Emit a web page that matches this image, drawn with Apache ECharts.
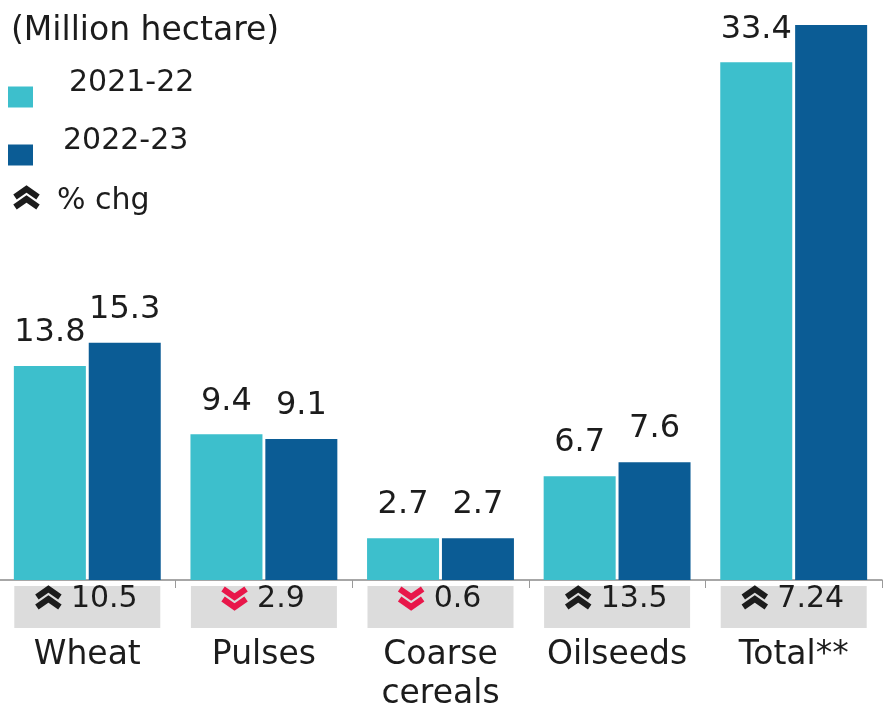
<!DOCTYPE html>
<html>
<head>
<meta charset="utf-8">
<script src="https://cdn.jsdelivr.net/npm/echarts@6/dist/echarts.min.js"></script>
<style>
  html, body { margin: 0; padding: 0; background: #fff; }
  #chart { width: 892px; height: 711px; }
</style>
</head>
<body>
<div id="chart"></div>
<script>
const categories = ["Wheat", "Pulses", "Coarse\ncereals", "Oilseeds", "Total**"];
const area2122 = [13.8, 9.4, 2.7, 6.7, 33.4];
const area2223 = [15.3, 9.1, 2.7, 7.6, 35.8];
const pctChange = [10.5, -2.9, -0.6, 13.5, 7.24];

const FONT = "DejaVu Sans";
const TEXT = "#1c1c1c";
const LIGHT = "#3dbfcc";
const DARK = "#0b5c95";
const RED = "#e8174a";

// measure text for centring chevron + number together
const measureCtx = document.createElement("canvas").getContext("2d");
function textWidth(str, size) {
  measureCtx.font = size + "px '" + FONT + "'";
  return measureCtx.measureText(str).width;
}

function chevronShapes(x, y, up, color) {
  // two stacked chevrons, 23px wide, relative to y
  const rows = [[9, 17], [19, 27]];
  return rows.map(([a, b]) => ({
    type: "polyline",
    shape: {
      points: up
        ? [[x, y + b], [x + 11.5, y + a], [x + 23, y + b]]
        : [[x, y + a], [x + 11.5, y + b], [x + 23, y + a]]
    },
    style: { stroke: color, lineWidth: 6, fill: null, lineJoin: "miter" }
  }));
}

function renderPct(params, api) {
  const idx = api.value(0);
  const pct = api.value(2);
  const pt = api.coord([idx, 0]);
  const cx = pt[0], y0 = pt[1];
  const up = pct >= 0;
  const label = String(Math.abs(pct));
  const tw = textWidth(label, 30);
  const total = 23 + 11 + tw;
  const sx = cx - total / 2;
  return {
    type: "group",
    children: [
      {
        type: "rect",
        shape: { x: cx - 73, y: y0 + 6, width: 146, height: 42 },
        style: { fill: "#dcdcdc" }
      },
      ...chevronShapes(sx, y0, up, up ? TEXT : RED),
      {
        type: "text",
        style: {
          x: sx + 34, y: y0 + 19,
          text: label,
          font: "30px '" + FONT + "'",
          fill: TEXT,
          textAlign: "left",
          textVerticalAlign: "middle"
        }
      }
    ]
  };
}

const chart = echarts.init(document.getElementById("chart"), null, { renderer: "canvas" });

const barLabel = {
  show: true,
  position: "top",
  distance: 17,
  color: TEXT,
  fontFamily: FONT,
  fontSize: 32
};

chart.setOption({
  animation: false,
  textStyle: { fontFamily: FONT },
  title: {
    text: "(Million hectare)",
    left: 11,
    top: 15,
    padding: 0,
    textStyle: { fontFamily: FONT, fontSize: 33, fontWeight: "normal", color: TEXT }
  },
  legend: {
    orient: "vertical",
    left: 8,
    top: 68,
    padding: 0,
    itemGap: 0,
    itemWidth: 25,
    itemHeight: 21,
    icon: "rect",
    selectedMode: false,
    formatter: name => (name === "2021-22" ? "{a|" + name + "}" : "{b|" + name + "}") + "\n{gap| }",
    textStyle: {
      color: TEXT,
      rich: {
        a: { fontFamily: FONT, fontSize: 30, lineHeight: 30, padding: [0, 0, 0, 31], color: TEXT },
        b: { fontFamily: FONT, fontSize: 30, lineHeight: 30, padding: [0, 0, 0, 25], color: TEXT },
        gap: { fontSize: 10, lineHeight: 28, height: 28 }
      }
    },
    data: ["2021-22", "2022-23"]
  },
  graphic: [
    {
      type: "group",
      left: 12,
      top: 186,
      children: [
        ...chevronShapes(0, -9, true, TEXT),
        {
          type: "text",
          style: {
            x: 42, y: 12,
            text: "% chg",
            font: "30px '" + FONT + "'",
            fill: TEXT,
            textVerticalAlign: "middle"
          }
        }
      ]
    }
  ],
  grid: { left: -1, right: 10, top: 25, bottom: 131, containLabel: false, outerBoundsMode: "none" },
  xAxis: {
    type: "category",
    data: categories,
    axisLine: { lineStyle: { color: "#8a8a8a", width: 1.5 } },
    axisTick: { show: true, length: 8, lineStyle: { color: "#9a9a9a" } },
    axisLabel: {
      interval: 0,
      margin: 56,
      color: TEXT,
      fontFamily: FONT,
      fontSize: 33,
      lineHeight: 39
    }
  },
  yAxis: {
    type: "value",
    min: 0,
    max: 35.8,
    show: false,
    splitLine: { show: false }
  },
  series: [
    {
      name: "2021-22",
      type: "bar",
      data: area2122,
      barWidth: 72,
      barGap: "4%",
      itemStyle: { color: LIGHT },
      label: barLabel
    },
    {
      name: "2022-23",
      type: "bar",
      data: area2223,
      barWidth: 72,
      itemStyle: { color: DARK },
      label: barLabel
    },
    {
      name: "pct",
      type: "custom",
      renderItem: renderPct,
      data: pctChange.map((v, i) => [i, 0, v]),
      encode: { x: 0, y: 1 },
      clip: false,
      silent: true,
      z: 5
    }
  ]
});
</script>
</body>
</html>
